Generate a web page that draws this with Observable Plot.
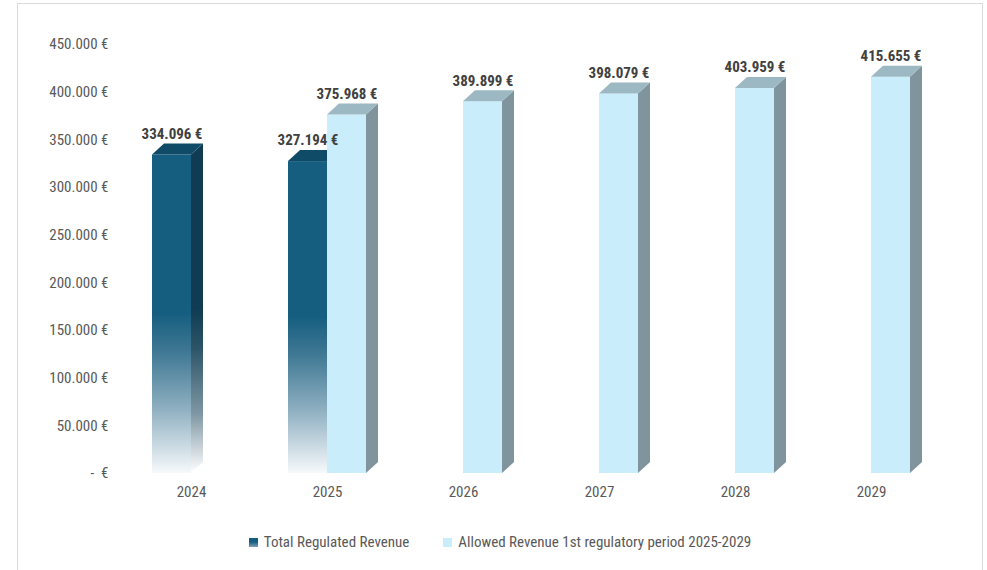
<!DOCTYPE html>
<html>
<head>
<meta charset="utf-8">
<script src="https://cdn.jsdelivr.net/npm/d3@7"></script>
<script src="https://cdn.jsdelivr.net/npm/@observablehq/plot@0.6"></script>
<style>
  body { margin: 0; background: #fff; font-family: "Liberation Sans Narrow", "Roboto Condensed", "DejaVu Sans Condensed", "Arial Narrow", sans-serif; }
  #frame { position: absolute; left: 17px; top: 3px; width: 964px; height: 570px; border: 1px solid #d9d9d9; background: #fff; }
  #legend { position: absolute; top: 529px; left: 0px; width: 964px; display: flex; justify-content: center; gap: 34px; font-size: 15px; color: #595959; }
  #legend .item { display: flex; align-items: center; gap: 6px; }
  #legend .sw { width: 9px; height: 9px; display: inline-block; }
</style>
</head>
<body>
<div id="frame">
  <div id="chart"></div>
  <div id="legend"></div>
</div>
<script>
// ---- data ----
const years = ["2024", "2025", "2026", "2027", "2028", "2029"];
const totalRegulated = [334096, 327194, null, null, null, null];
const allowedRevenue = [null, 375968, 389899, 398079, 403959, 415655];
const yTicks = [0, 50000, 100000, 150000, 200000, 250000, 300000, 350000, 400000, 450000];
const seriesNames = ["Total Regulated Revenue", "Allowed Revenue 1st regulatory period 2025-2029"];

const darkData = years.map((y, i) => ({year: y, value: totalRegulated[i]})).filter(d => d.value != null);
const lightData = years.map((y, i) => ({year: y, value: allowedRevenue[i]})).filter(d => d.value != null);

const locale = d3.formatLocale({decimal: ",", thousands: ".", grouping: [3], currency: ["", " €"]});
const fmt = locale.format(",.0f");
const euro = v => v === 0 ? "-  €" : fmt(v) + " €";

const FONT = '"Liberation Sans Narrow", "Roboto Condensed", "DejaVu Sans Condensed", "Arial Narrow", sans-serif';
const half = 39; // half of the bar pair (px) -> used via insets

const chart = Plot.plot({
  width: 964,
  height: 499,
  marginTop: 40,
  marginBottom: 30,
  marginLeft: 100,
  marginRight: 38,
  style: {fontFamily: FONT, fontSize: "15px", color: "#595959", background: "#fff", overflow: "visible"},
  x: {domain: years, paddingInner: 0.428, paddingOuter: 0.242, label: null},
  y: {domain: [0, 450000], label: null},
  marks: [
    Plot.axisY({ticks: yTicks, tickFormat: euro, tickSize: 0, tickPadding: 10, label: null, fill: "#595959", fontSize: 15}),
    Plot.axisX({tickSize: 0, tickPadding: 13, label: null, fill: "#595959", fontSize: 15}),
    Plot.barY(darkData, {x: "year", y: "value", fill: "url(#darkFront)", insetRight: half}),
    Plot.barY(lightData, {x: "year", y: "value", fill: "#c9edfb", insetLeft: half}),
    Plot.text(darkData, {x: "year", y: "value", text: d => euro(d.value), dx: -half / 2, dy: -21, fontWeight: "bold", fill: "#404040", fontSize: 15}),
    Plot.text(lightData, {x: "year", y: "value", text: d => euro(d.value), dx: half / 2, dy: -21, fontWeight: "bold", fill: "#404040", fontSize: 15})
  ]
});

// gradients
const svg = d3.select(chart);
const defs = svg.insert("defs", ":first-child");
function vgrad(id, stops) {
  const g = defs.append("linearGradient").attr("id", id).attr("x1", 0).attr("y1", 0).attr("x2", 0).attr("y2", 1);
  stops.forEach(([o, c]) => g.append("stop").attr("offset", o).attr("stop-color", c));
}
vgrad("darkFront", [[0, "#165e80"], [0.5, "#165e80"], [0.62, "#3f7894"], [0.8, "#8fb0c1"], [1, "#f6f9fb"]]);
vgrad("darkSide", [[0, "#0f3c52"], [0.5, "#0f3c52"], [0.62, "#2c5468"], [0.82, "#7f97a4"], [1, "#ffffff"]]);

// 3D faces built from the rendered bars (bar groups in mark order: dark, light)
const DX = 12, DY = 11;
const faceStyles = [["url(#darkSide)", "#0f4a66"], ["#7f949d", "#9bb8c3"]];
const barGroups = chart.querySelectorAll('g[aria-label="bar"]');
barGroups.forEach((grp, gi) => {
  const [sideFill, topFill] = faceStyles[gi];
  grp.querySelectorAll("rect").forEach(node => {
    const x = +node.getAttribute("x"), y = +node.getAttribute("y"), w = +node.getAttribute("width"), h = +node.getAttribute("height");
    const side = document.createElementNS("http://www.w3.org/2000/svg", "path");
    side.setAttribute("d", `M${x + w},${y}L${x + w + DX},${y - DY}L${x + w + DX},${y + h - DY}L${x + w},${y + h}Z`);
    side.setAttribute("fill", sideFill);
    const top = document.createElementNS("http://www.w3.org/2000/svg", "path");
    top.setAttribute("d", `M${x},${y}L${x + DX},${y - DY}L${x + w + DX},${y - DY}L${x + w},${y}Z`);
    top.setAttribute("fill", topFill);
    node.parentNode.insertBefore(side, node.nextSibling);
    node.parentNode.insertBefore(top, side.nextSibling);
  });
});

document.getElementById("chart").appendChild(chart);

// legend
const legend = d3.select("#legend");
const swatches = ["linear-gradient(#165e80 0%, #165e80 45%, #7fa3b6 100%)", "#c9edfb"];
seriesNames.forEach((name, i) => {
  const it = legend.append("div").attr("class", "item");
  it.append("span").attr("class", "sw").style("background", swatches[i]);
  it.append("span").text(name);
});
</script>
</body>
</html>
